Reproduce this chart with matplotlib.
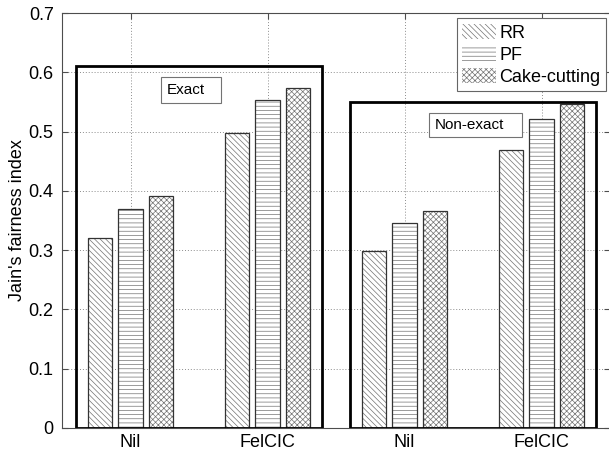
import numpy as np
import matplotlib
matplotlib.use("Agg")
import matplotlib.pyplot as plt
from matplotlib.patches import Rectangle

# datos
groups = ["Nil", "FelCIC", "Nil", "FelCIC"]
series = ["RR", "PF", "Cake-cutting"]
rr = [0.320, 0.498, 0.299, 0.469]
pf = [0.369, 0.553, 0.345, 0.521]
cake = [0.392, 0.573, 0.366, 0.546]
box_names = ["Exact", "Non-exact"]
box_tops = [0.61, 0.55]
yticks = [0, 0.1, 0.2, 0.3, 0.4, 0.5, 0.6, 0.7]

plt.rcParams['font.family'] = ['Liberation Sans', 'DejaVu Sans']
plt.rcParams['hatch.linewidth'] = 0.5

fig = plt.figure(figsize=(6.09, 4.51), dpi=100)
ax = fig.add_axes([62/609, 23/451, 548/609, 415/451])

x = np.arange(1, len(groups) + 1)
off = 0.667 / 3
w = 0.8 * off
hatches = ['\\' * 6, '-' * 4, 'x' * 6]
for i, (vals, h) in enumerate(zip([rr, pf, cake], hatches)):
    # relleno con trama gris
    ax.bar(x + (i - 1) * off, vals, w, facecolor='white', edgecolor='0.45',
           hatch=h, linewidth=0, label=series[i], zorder=2)
    # borde oscuro
    ax.bar(x + (i - 1) * off, vals, w, fill=False, edgecolor='0.2',
           linewidth=0.9, zorder=2.5)

# cajas negras de cada grupo (Exact / Non-exact)
for k, top in enumerate(box_tops):
    x0 = x[2 * k] - 0.4
    ax.add_patch(Rectangle((x0, 0), 1.8, top, fill=False, edgecolor='black',
                           linewidth=2, zorder=3))
    # caja de texto
    bw = [0.438, 0.677][k]
    bh = [0.044, 0.042][k]
    bx = x0 + [0.623, 0.582][k]
    by = top - 0.018 - bh
    ax.add_patch(Rectangle((bx, by), bw, bh, fill=True, facecolor='white',
                           edgecolor='0.45', linewidth=0.8, zorder=4))
    ax.text(bx + 0.04, by + bh / 2, box_names[k], ha='left', va='center',
            fontsize=11, zorder=5)

ax.set_xlim(0.5, 4.5)
ax.set_ylim(0, 0.7)
ax.set_xticks(x)
ax.set_xticklabels(groups, fontsize=13)
ax.set_yticks(yticks)
ax.set_yticklabels(['0' if v == 0 else f'{v:.1f}' for v in yticks], fontsize=13)
ax.set_ylabel("Jain's fairness index", fontsize=13, labelpad=2)

ax.tick_params(direction='in', length=4, width=0.8, color='0.3',
               top=True, right=True, pad=4)
ax.tick_params(axis='y', pad=6)
for s in ax.spines.values():
    s.set_color('0.3')
    s.set_linewidth(0.8)
ax.grid(True, linestyle=(0, (1, 2)), color='0.55', linewidth=0.7)
ax.set_axisbelow(True)

leg = ax.legend(loc='upper right', bbox_to_anchor=(0.9927, 0.987),
                borderaxespad=0, fontsize=13, fancybox=False,
                edgecolor='0.4', framealpha=1, handleheight=0.9,
                handlelength=1.85, handletextpad=0.2, labelspacing=0.25,
                borderpad=0.3)
leg.get_frame().set_linewidth(0.8)
leg.set_zorder(6)

fig.savefig('out.png', dpi=100)
